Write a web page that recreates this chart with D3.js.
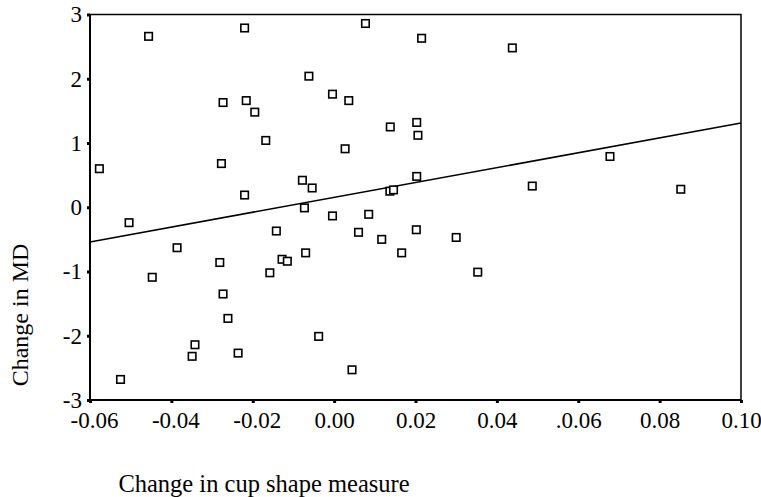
<!DOCTYPE html>
<html>
<head>
<meta charset="utf-8">
<script src="https://cdn.jsdelivr.net/npm/d3@7"></script>
<style>
  body { margin: 0; background: #fff; }
  svg text { font-family: "Liberation Serif", "Times New Roman", serif; fill: #000; }
</style>
</head>
<body>
<div id="scatter"></div>
<script>
// values
var cupChange = [-0.0577, -0.0456, -0.022, 0.0077, -0.0062, -0.0273, -0.0216, -0.0195, -0.0004, 0.0036,
  -0.0168, 0.0027, -0.0277, -0.0078, -0.0054, -0.022, 0.0215, 0.0438, 0.0138, 0.0203,
  0.0206, 0.0203, 0.0137, 0.0146, 0.0487, 0.0678, 0.0852, -0.0504, -0.0073, -0.0142,
  -0.0004, 0.0085, 0.006, 0.0117, -0.0386, -0.0281, -0.0128, -0.0115, -0.007, -0.0158,
  -0.0447, -0.0273, -0.0261, -0.0038, -0.0342, -0.0349, -0.0236, -0.0525, 0.0044, 0.0202,
  0.030, 0.0166, 0.0353];
var mdChange = [0.60, 2.66, 2.79, 2.86, 2.04, 1.63, 1.66, 1.48, 1.76, 1.66,
  1.04, 0.91, 0.68, 0.42, 0.30, 0.19, 2.63, 2.48, 1.25, 1.32,
  1.12, 0.48, 0.25, 0.27, 0.33, 0.79, 0.28, -0.24, -0.01, -0.37,
  -0.135, -0.11, -0.39, -0.50, -0.63, -0.86, -0.81, -0.84, -0.71, -1.02,
  -1.09, -1.35, -1.73, -2.01, -2.14, -2.32, -2.27, -2.68, -2.53, -0.35,
  -0.47, -0.71, -1.01];

var xTickValues = [-0.06, -0.04, -0.02, 0, 0.02, 0.04, 0.06, 0.08, 0.10];
var xTickLabels = ["-0.06", "-0.04", "-0.02", "0.00", "0.02", "0.04", ".0.06", "0.08", "0.10"];
var yTickValues = [-3, -2, -1, 0, 1, 2, 3];
var yTickLabels = ["-3", "-2", "-1", "0", "1", "2", "3"];

// fit line as drawn
var fitIntercept = 0.154;
var fitSlope = 11.56;

var svgWidth = 761;
var svgHeight = 497;

var margin = {
  top: 14.5,
  right: 20,
  bottom: 97,
  left: 90
};

var width = svgWidth - margin.left - margin.right;
var height = svgHeight - margin.top - margin.bottom;

var svg = d3.select("#scatter")
  .append("svg")
  .attr("width", svgWidth)
  .attr("height", svgHeight);

var chart = svg.append("g")
  .attr("transform", `translate(${margin.left}, ${margin.top})`);

var data = cupChange.map(function(d, i) {
  return { x: d, y: mdChange[i] };
});

var xScale = d3.scaleLinear()
  .domain([-0.06, 0.10])
  .range([0, width]);

var yScale = d3.scaleLinear()
  .domain([-3, 3])
  .range([height, 0]);

// axes
var bottomAxis = d3.axisBottom(xScale)
  .tickValues(xTickValues)
  .tickFormat(function(d, i) { return xTickLabels[i]; })
  .tickSize(3)
  .tickPadding(9);

var leftAxis = d3.axisLeft(yScale)
  .tickValues(yTickValues)
  .tickFormat(function(d, i) { return yTickLabels[i]; })
  .tickSize(3)
  .tickPadding(5);

var xAxisG = chart.append("g")
  .attr("transform", `translate(0, ${height})`)
  .call(bottomAxis);

var yAxisG = chart.append("g")
  .call(leftAxis);

[xAxisG, yAxisG].forEach(function(g) {
  g.attr("font-family", "Liberation Serif, serif").attr("font-size", 23);
  g.select(".domain").remove();
  g.selectAll(".tick line").attr("stroke", "#000").attr("stroke-width", 3);
  g.selectAll(".tick text")
    .attr("font-family", "Liberation Serif, serif")
    .attr("font-size", 23)
    .attr("fill", "#000");
});

// negative x labels sit a little right of their ticks in the original
xAxisG.selectAll(".tick text")
  .attr("dx", d => d < 0 ? 4 : 0);

// frame
chart.append("rect")
  .attr("width", width)
  .attr("height", height)
  .attr("fill", "none")
  .attr("stroke", "#000")
  .attr("stroke-width", 1.5);

chart.append("line")
  .attr("x1", 0).attr("x2", 0)
  .attr("y1", 0).attr("y2", height)
  .attr("stroke", "#000")
  .attr("stroke-width", 2);

chart.append("line")
  .attr("x1", 0).attr("x2", width)
  .attr("y1", height).attr("y2", height)
  .attr("stroke", "#000")
  .attr("stroke-width", 2);

// regression line
var xDom = xScale.domain();
chart.append("line")
  .attr("x1", xScale(xDom[0]))
  .attr("y1", yScale(fitIntercept + fitSlope * xDom[0]))
  .attr("x2", xScale(xDom[1]))
  .attr("y2", yScale(fitIntercept + fitSlope * xDom[1]))
  .attr("stroke", "#000")
  .attr("stroke-width", 1.5);

// points
var s = 7.5;
chart.selectAll("rect.pt")
  .data(data)
  .enter()
  .append("rect")
  .attr("class", "pt")
  .attr("x", d => xScale(d.x) - s / 2)
  .attr("y", d => yScale(d.y) - s / 2)
  .attr("width", s)
  .attr("height", s)
  .attr("fill", "#fff")
  .attr("stroke", "#000")
  .attr("stroke-width", 1.6);

// axis labels
svg.append("text")
  .attr("transform", "translate(28, 315) rotate(-90)")
  .attr("text-anchor", "middle")
  .style("font-size", "24px")
  .text("Change in MD");

svg.append("text")
  .attr("x", 264)
  .attr("y", 492)
  .attr("text-anchor", "middle")
  .style("font-size", "24.5px")
  .text("Change in cup shape measure");
</script>
</body>
</html>
